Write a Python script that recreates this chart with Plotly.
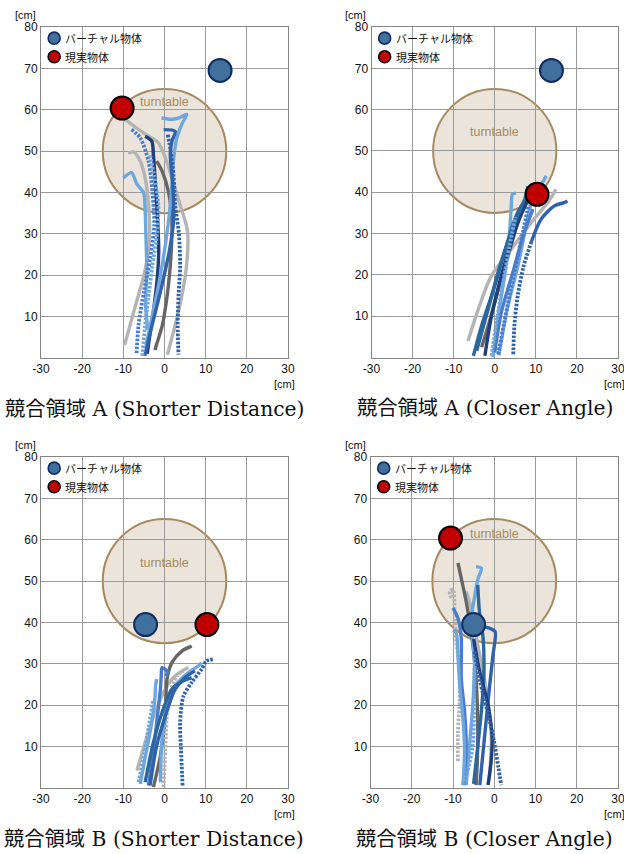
import plotly.graph_objects as go

# ---------------- data ----------------
X_TICKS = [-30, -20, -10, 0, 10, 20, 30]
X_TICK_LABELS = ["-30", "-20", "-10", "0", "10", "20", "30"]
Y_TICKS = [10, 20, 30, 40, 50, 60, 70, 80]
Y_TICK_LABELS = ["10", "20", "30", "40", "50", "60", "70", "80"]

PANEL_TITLES = ["競合領域 A (Shorter Distance)", "競合領域 A (Closer Angle)",
                "競合領域 B (Shorter Distance)", "競合領域 B (Closer Angle)"]
LEGEND_LABELS = ["バーチャル物体", "現実物体"]

TURNTABLE_CENTER = (0, 50)
TURNTABLE_RADIUS = 15

VIRTUAL_X = [13.5, 13.8, -4.6, -5.0]
VIRTUAL_Y = [69.5, 69.5, 39.5, 39.5]
REAL_X = [-10.3, 10.3, 10.3, -10.6]
REAL_Y = [60.4, 39.5, 39.5, 60.4]

# colour names for trajectories
C = {
    "lg": "#b4b4b4", "dg": "#666666", "lb": "#6ea7dd", "mb": "#4a7ccc",
    "sb": "#2f62aa", "nv": "#1f3f7c", "tb": "#2a679e",
}

# Panel 1: A Shorter Distance
P1_X = [
    [-10, -5.1, -1.5, 0.2, 1.8, 3.8, 5.6, 5.2, 3.4, 0.7],
    [-8.8, -7.5, -5.9, -4.6, -3.9, -3.6, -4.2, -5, -7.8, -9.7],
    [-1.9, -0.5, 1, 1.8, 1.7, 1.2, 0.5, -0.5, -2, -2.3],
    [-10, -8, -6.7, -5.1, -4.7, -4.5, -4.3, -4.6, -4.2, -4.3],
    [-8, -5.9, -3.9, -2.9, -2.5, -3.5, -5, -6.3, -6.8],
    [-4.7, -3.1, -2.7, -2.2, -1.7, -1.4, -1.7, -2.6, -3.5, -4.2],
    [-0.7, 1.8, 3.4, 5.4, 4.2, 3, 2.2, 1.8, 1.2, 0.3, -1, -3, -4.5],
    [-0.2, 2.6, 1.8, 1.4, 2, 2.2, 1.2, -1, -3, -4.8],
    [0.8, 1.5, 2.2, 2.6, 3.5, 3.8, 3.4, 3.2, 3.4],
    [-3.5, -2.5, -1.5, -1.8, -3, -4, -4.8, -5.4],
]
P1_Y = [
    [58, 54.4, 52, 48.4, 43.5, 37, 30.6, 21, 11.3, 0.8],
    [49.5, 49.8, 47.6, 43, 37, 30, 24, 20, 10, 3.1],
    [47.6, 45, 40, 33, 27, 20, 14, 8, 3, 1.9],
    [43.5, 44.8, 42, 40, 35.5, 29, 21, 13, 8, 6.8],
    [55.2, 53.2, 47.6, 40, 32, 24, 16, 8, 0.8],
    [53.6, 52.4, 49.2, 42, 34, 26, 20, 12, 6, 1],
    [58, 57.7, 58, 58.9, 56.5, 53.2, 48, 42, 35, 28, 20, 10, 3],
    [55.2, 54.8, 52.4, 49.2, 42, 33, 26, 16, 8, 0.5],
    [54, 50, 44, 37, 30, 22, 15, 8, 0.8],
    [49, 44, 37, 30, 22, 14, 7, 0.5],
]
P1_COLORS = ["lg", "lg", "dg", "lb", "mb", "nv", "lb", "sb", "sb", "lb"]
P1_DOTTED = [False, False, False, False, True, False, False, False, True, True]

# Panel 2: A Closer Angle
P2_X = [
    [-6.5, -4, -0.8, 4, 8.9, 12.9, 14.9],
    [-3.2, -1.5, 0.5, 2.5, 4.5, 6.1],
    [-0.4, 0.8, 2.4, 3.6, 4, 4.3, 5.2],
    [1, 3.2, 5.6, 7.3, 8.5, 10, 12, 12.5],
    [0.8, 2.2, 3.8, 5.5, 7, 8.2],
    [4.5, 4.8, 5.6, 7, 8.9],
    [8.9, 11.3, 14.5, 16.9, 17.7],
    [-5.2, -3.2, 0, 2.8, 5.2, 7.3, 8.1],
    [-2.4, -0.8, 1.6, 4, 6, 7.7, 8.5],
    [-4.4, -1.6, 1.2, 4, 6.5],
    [0, 1.6, 4.4, 6.9, 9.3],
    [-0.8, 0.5, 2, 3.6, 5],
]
P2_Y = [
    [4, 11.7, 19.8, 26.2, 32.7, 37.5, 40.7],
    [2.5, 8, 15, 22, 29, 34.7],
    [0, 10, 19.8, 30.2, 36, 39.5, 39.8],
    [0.5, 12.5, 22, 30.2, 36, 40, 43, 44],
    [0.8, 8, 16, 24, 31, 37],
    [0.8, 8, 15, 22, 28],
    [28, 33.5, 36.7, 37.5, 37.9],
    [0.4, 7.7, 17.3, 27, 34.3, 38.3, 41.5],
    [0.4, 10, 19.8, 27.8, 33.5, 37.5, 40.3],
    [1.6, 11.7, 22, 30.2, 36.7],
    [1.2, 10.9, 20.6, 29.4, 35.9],
    [0.4, 9, 18, 27, 34],
]
P2_COLORS = ["lg", "dg", "lb", "lb", "mb", "sb", "sb", "tb", "nv", "tb", "mb", "lb"]
P2_DOTTED = [False, False, False, False, True, True, False, False, False, False, False, True]

# Panel 3: B Shorter Distance
P3_X = [
    [-6.7, -4.7, -2.3, 0.2, 2.6, 5.8],
    [-2.7, -1, 0.2, 0.6, 1.8, 4.2, 6.6],
    [-0.2, 0.2, 1, 3, 4.6],
    [-3.9, -2.7, -1.9, -1, -0.8, -0.6, 0.6, 0.4],
    [-5.9, -4.3, -3.1, -2.3, -2.2, -1.9],
    [-1, -0.6, 0.6, 2.6, 5.8, 8.2, 9],
    [-3.5, -1.9, 0.2, 2.6, 5, 7.4],
    [-4.7, -2.7, -0.6, 1.8, 4.6, 6.6],
    [4.4, 4, 3.8, 4.6, 6.6, 9, 10.2, 11.9],
    [-6.3, -5, -3.8, -2.8],
]
P3_Y = [
    [4.2, 11, 18.2, 23.9, 27.1, 29.1],
    [0.2, 7.8, 17.4, 26.3, 30.3, 33.1, 34.3],
    [0.2, 9.4, 21.4, 27.1, 28.3],
    [0.6, 8.6, 15.8, 23.9, 27, 29.1, 28.2, 27],
    [1, 9.4, 15.8, 22, 24.5, 26.3],
    [1.4, 11.8, 19.8, 24.7, 27.9, 29.5, 30.3],
    [0.6, 10.2, 17.4, 23.9, 26.7, 28.3],
    [1.4, 11, 18.2, 23.9, 25.9, 26.7],
    [0.6, 9.4, 15.8, 22.2, 25.5, 28.7, 30.7, 31.1],
    [1.4, 8, 15, 21],
]
P3_COLORS = ["lg", "dg", "lg", "mb", "lb", "lb", "sb", "tb", "sb", "lb"]
P3_DOTTED = [False, False, True, False, False, False, False, False, True, True]

# Panel 4: B Closer Angle
P4_X = [
    [-10.4, -10.8, -10, -9.6, -9.2, -8.4, -8.4, -8.8, -8.8],
    [-6.8, -5.6, -4, -2.7, -1.5, -0.7, -1.1, -1.5],
    [-8.8, -8, -6.8, -5.6, -4.4, -4, -4.1, -4.4],
    [-4.4, -3.1, -3.9, -4.8, -5.6, -4.8, -5.2, -6, -6.8],
    [-4, -3.6, -2.7, -2.5, -3, -4, -5],
    [-10, -8.8, -8, -8, -7.2, -6.8, -7.3],
    [-10, -9.2, -8.8, -8.4, -7.6, -7.2, -7.6],
    [-5, -1.1, 0.2, -0.3, -1.1, -1.9, -2.7, -3.5],
    [-5, -3.5, -1.5, -0.5, -0.8, -1.5],
    [-4.8, -3.5, -1.5, 0, 1, 1.7],
    [-4.8, -4.9, -5.2, -6.5, -7.6],
]
P4_Y = [
    [45.9, 47.5, 47.9, 43, 35.4, 29, 20.9, 13.6, 6.4],
    [47.5, 43.5, 34.6, 28.1, 20.9, 12, 4, 0.7],
    [54.4, 50.7, 45, 37.8, 26.5, 14.4, 6.4, 0.7],
    [53.5, 53.1, 50.7, 46, 40.2, 30.6, 20.1, 10.4, 0.7],
    [49.1, 42.7, 36.2, 28, 20, 10, 1],
    [43.5, 41, 36.2, 26.5, 18.5, 10.4, 0.7],
    [38.2, 37.4, 32.2, 24.9, 16.9, 8.8, 0.7],
    [39.5, 38.6, 37.8, 32.2, 24.9, 16.9, 8.8, 0.7],
    [36, 28, 20, 12, 6, 0.7],
    [33, 26, 18, 11, 5, 0.7],
    [29, 20.1, 10.4, 4, 0.7],
]
P4_COLORS = ["lg", "lg", "dg", "lb", "tb", "mb", "lb", "sb", "nv", "sb", "lb"]
P4_DOTTED = [True, False, False, False, False, False, False, False, False, True, True]

PANELS_X = [P1_X, P2_X, P3_X, P4_X]
PANELS_Y = [P1_Y, P2_Y, P3_Y, P4_Y]
PANELS_C = [P1_COLORS, P2_COLORS, P3_COLORS, P4_COLORS]
PANELS_D = [P1_DOTTED, P2_DOTTED, P3_DOTTED, P4_DOTTED]

# ---------------- layout geometry ----------------
# figure is a little wider than the window; the right edge is cut like the original
W, H = 640, 854
# plot areas in screen pixels: (left, right, top, bottom)
AREAS = [(41, 288, 27, 358), (371.5, 618, 27, 357.5),
         (41, 288, 457, 788), (370.5, 618, 457, 788)]
TT_LABEL_Y = [61.8, 54.7, 54.5, 61.5]


def px(v):
    return v / W


def py(v):
    return 1 - v / H


fig = go.Figure()
layout_axes = {}
shapes = []
annotations = []

for i in range(4):
    s = "" if i == 0 else str(i + 1)
    xref, yref = "x" + s, "y" + s
    l, r, t, b = AREAS[i]
    common = dict(showgrid=True, gridcolor="#9a9a9a", gridwidth=1, showline=True,
                  linecolor="#858585", linewidth=1, mirror=True, zeroline=False,
                  ticks="", automargin=False, fixedrange=True,
                  ticklabeloverflow="allow",
                  tickfont=dict(family="Liberation Sans, Arial", size=12, color="#111"))
    layout_axes["xaxis" + s] = dict(domain=[px(l), px(r)], anchor=yref,
                                    range=[-30, 30], tickvals=X_TICKS,
                                    ticktext=X_TICK_LABELS, **common)
    layout_axes["yaxis" + s] = dict(domain=[py(b), py(t)], anchor=xref, range=[0, 80],
                                    tickvals=Y_TICKS, ticktext=Y_TICK_LABELS, **common)

    cx, cy = TURNTABLE_CENTER
    shapes.append(dict(type="circle", xref=xref, yref=yref,
                       x0=cx - TURNTABLE_RADIUS, x1=cx + TURNTABLE_RADIUS,
                       y0=cy - TURNTABLE_RADIUS, y1=cy + TURNTABLE_RADIUS,
                       fillcolor="#ebe4da", line=dict(color="#a8895f", width=2),
                       layer="below"))
    annotations.append(dict(x=cx, y=TT_LABEL_Y[i], xref=xref, yref=yref,
                            text="turntable", showarrow=False,
                            xanchor="center", yanchor="middle",
                            font=dict(family="Liberation Sans, Arial", size=12.5,
                                      color="#a68a62")))

    # trajectories
    for xs, ys, cn, dotted in zip(PANELS_X[i], PANELS_Y[i], PANELS_C[i], PANELS_D[i]):
        fig.add_trace(go.Scatter(
            x=xs, y=ys, mode="lines", xaxis=xref, yaxis=yref,
            line=dict(color=C[cn], width=3.8 if dotted else 3.4,
                      dash="2.5px,1.5px" if dotted else "solid", shape="spline",
                      smoothing=0.8),
            showlegend=False, hoverinfo="skip"))

    # objects
    fig.add_trace(go.Scatter(
        x=[VIRTUAL_X[i]], y=[VIRTUAL_Y[i]], mode="markers", xaxis=xref, yaxis=yref,
        marker=dict(size=23, color="#41709c", line=dict(color="#0e2c62", width=2)),
        name=LEGEND_LABELS[0], showlegend=False))
    fig.add_trace(go.Scatter(
        x=[REAL_X[i]], y=[REAL_Y[i]], mode="markers", xaxis=xref, yaxis=yref,
        marker=dict(size=23, color="#c00000", line=dict(color="#000000", width=2)),
        name=LEGEND_LABELS[1], showlegend=False))

    # legend (drawn inside each panel, top-left)
    fig.add_trace(go.Scatter(
        x=[-26.8, -26.8], y=[77.3, 72.8], mode="markers", xaxis=xref, yaxis=yref,
        marker=dict(size=12, color=["#41709c", "#c00000"],
                    line=dict(color=["#0e2c62", "#000000"], width=1.6)),
        showlegend=False, hoverinfo="skip"))
    for lab, ly in zip(LEGEND_LABELS, [77.3, 72.8]):
        annotations.append(dict(x=-24.6, y=ly, xref=xref, yref=yref, text=lab,
                                showarrow=False, xanchor="left", yanchor="middle",
                                font=dict(family="Noto Sans CJK JP", size=11,
                                          color="#111")))

    # unit labels
    annotations.append(dict(x=px(25 if i % 2 == 0 else 355.5), y=py(t - 12),
                            xref="paper", yref="paper", text="[cm]", showarrow=False,
                            xanchor="center", yanchor="middle",
                            font=dict(family="Liberation Sans, Arial", size=11,
                                      color="#111")))
    annotations.append(dict(x=px(r - 4), y=py(b + 26),
                            xref="paper", yref="paper", text="[cm]", showarrow=False,
                            xanchor="center", yanchor="middle",
                            font=dict(family="Liberation Sans, Arial", size=11,
                                      color="#111")))
    # panel caption
    annotations.append(dict(x=px(154 if i % 2 == 0 else 484.5), y=py(b + 51),
                            xref="paper", yref="paper", text=PANEL_TITLES[i],
                            showarrow=False, xanchor="center", yanchor="middle",
                            font=dict(family="DejaVu Serif, Noto Sans CJK JP",
                                      size=20.3, color="#111")))

fig.update_layout(
    width=W, height=H, margin=dict(l=0, r=0, t=0, b=0, autoexpand=False),
    paper_bgcolor="white", plot_bgcolor="white",
    shapes=shapes, annotations=annotations, showlegend=False,
    **layout_axes)

fig.write_html("out.html", config={"displayModeBar": False},
               post_script="document.body.style.margin='0';"
                           "document.body.style.overflow='hidden';")
